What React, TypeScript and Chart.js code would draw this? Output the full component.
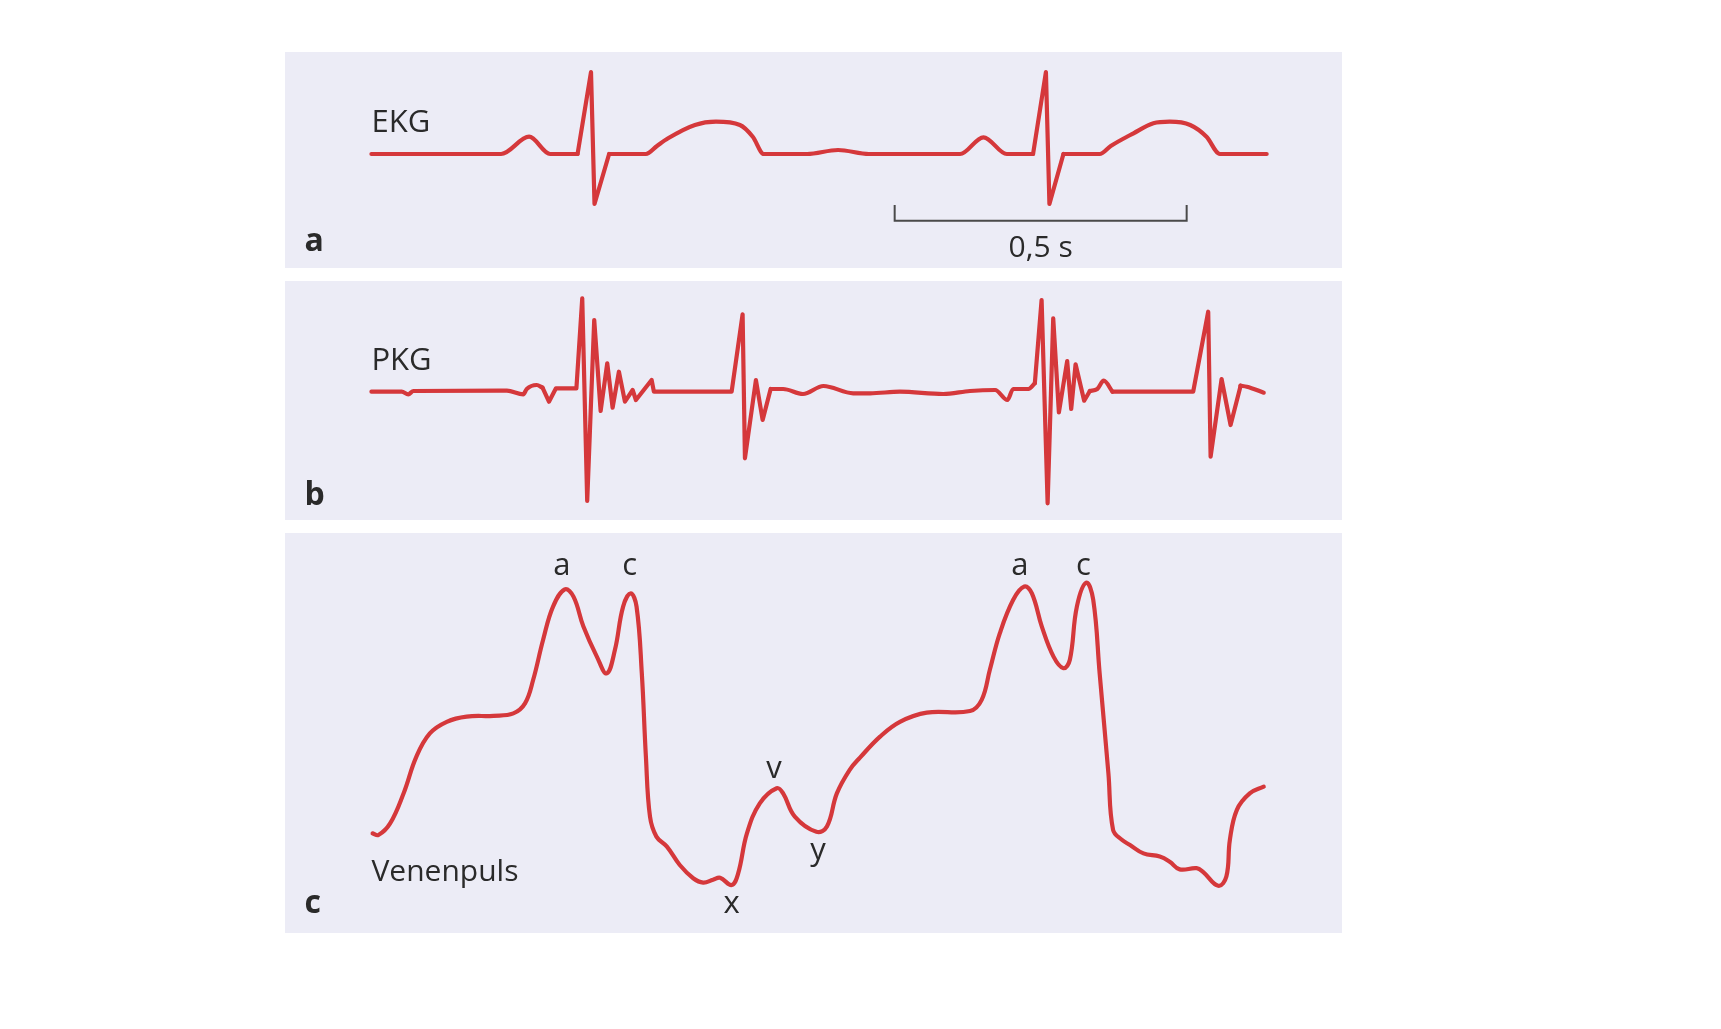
import React, { useEffect, useRef } from "react";
import { Chart, registerables } from "chart.js";

Chart.register(...registerables);

// ---------- shared time axis (seconds, 0 = start of the traces) ----------
const T_MIN = -0.148;
const T_MAX = 1.662;

// ---------- a: EKG (mV) ----------
const ekgWaveT = [0, 0.222, 0.27, 0.306, 0.353, 0.38, 0.407, 0.47, 0.489, 0.508, 0.554, 0.59, 0.631, 0.653, 0.672, 0.746, 0.799, 0.852, 1.008, 1.048, 1.088, 1.133, 1.16, 1.185, 1.247, 1.266, 1.305, 1.339, 1.367, 1.402, 1.43, 1.453, 1.533];
const ekgWaveV = [0, 0, 0.216, 0, 0, null, 0, 0, 0.1, 0.196, 0.363, 0.404, 0.363, 0.216, 0, 0, 0.05, 0, 0, 0.209, 0, 0, null, 0, 0, 0.1, 0.259, 0.384, 0.404, 0.363, 0.216, 0, 0];
const ekgSpikeT = [0.353, 0.376, 0.382, 0.407, 0.9, 1.133, 1.155, 1.161, 1.185];
const ekgSpikeV = [0, 1.025, -0.625, 0, null, 0, 1.025, -0.625, 0];
const scaleBarT = [0.896, 0.896, 1.396, 1.396];
const scaleBarV = [-0.6375, -0.834, -0.834, -0.6375];

// ---------- b: PKG (arbitrary units) ----------
const pkgWaveT = [0, 0.052, 0.063, 0.072, 0.232, 0.26, 0.266, 0.283, 0.293, 0.5, 0.684, 0.705, 0.739, 0.774, 0.825, 0.854, 0.905, 0.979, 1.025, 1.068, 1.089, 1.099, 1.125, 1.136, 1.18, 1.23, 1.243, 1.254, 1.269, 1.35, 1.488, 1.499, 1.528];
const pkgWaveV = [0, 0, -0.026, 0.007, 0.01, -0.026, 0.027, 0.067, 0.04, null, 0.027, 0.027, -0.023, 0.057, -0.016, -0.016, 0, -0.023, 0.007, 0.017, -0.083, 0.027, 0.027, 0.084, null, 0.007, 0.027, 0.11, 0, null, 0.06, 0.05, -0.01];
const pkgSoundT = [0.293, 0.304, 0.316, 0.351, 0.361, 0.3695, 0.3815, 0.3925, 0.4038, 0.413, 0.4238, 0.4341, 0.4473, 0.4529, 0.4798, 0.4837, 0.6168, 0.6356, 0.6396, 0.6584, 0.6699, 0.6836, 0.9, 1.136, 1.1476, 1.1579, 1.1675, 1.1772, 1.1914, 1.1983, 1.2058, 1.2205, 1.2303, 1.25, 1.269, 1.4072, 1.4329, 1.437, 1.4558, 1.4712, 1.4884];
const pkgSoundV = [0.04, -0.1, 0.034, 0.034, 0.934, -1.093, 0.717, -0.193, 0.284, -0.16, 0.2, -0.1, 0.017, -0.083, 0.117, 0, 0, 0.774, -0.666, 0.117, -0.283, 0.027, null, 0.084, 0.917, -1.116, 0.734, -0.206, 0.307, -0.173, 0.274, -0.09, 0.007, null, 0, 0, 0.8, -0.65, 0.127, -0.333, 0.06];

// ---------- c: Venenpuls (arbitrary units) ----------
const venT = [0.002, 0.012, 0.032, 0.055, 0.077, 0.1, 0.129, 0.163, 0.209, 0.243, 0.263, 0.277, 0.294, 0.311, 0.331, 0.346, 0.363, 0.386, 0.403, 0.417, 0.431, 0.444, 0.454, 0.463, 0.47, 0.477, 0.488, 0.506, 0.528, 0.551, 0.568, 0.585, 0.597, 0.617, 0.628, 0.643, 0.665, 0.694, 0.705, 0.725, 0.762, 0.78, 0.797, 0.819, 0.837, 0.871, 0.905, 0.951, 1.025, 1.045, 1.059, 1.076, 1.099, 1.118, 1.131, 1.148, 1.168, 1.185, 1.196, 1.208, 1.224, 1.236, 1.247, 1.262, 1.27, 1.285, 1.299, 1.322, 1.35, 1.367, 1.384, 1.413, 1.424, 1.45, 1.464, 1.47, 1.482, 1.504, 1.528];
const venV = [2.49, 2.45, 2.74, 3.49, 4.41, 4.99, 5.28, 5.41, 5.43, 5.49, 5.74, 6.33, 7.33, 8.16, 8.59, 8.41, 7.66, 6.91, 6.49, 7.08, 8.16, 8.49, 8.16, 6.49, 4.41, 2.91, 2.41, 2.16, 1.7, 1.37, 1.26, 1.33, 1.38, 1.2, 1.49, 2.49, 3.24, 3.62, 3.49, 2.91, 2.53, 2.66, 3.49, 4.08, 4.39, 4.91, 5.28, 5.51, 5.55, 5.83, 6.58, 7.49, 8.33, 8.66, 8.49, 7.66, 6.91, 6.62, 6.83, 8.16, 8.76, 8.33, 6.49, 3.99, 2.58, 2.33, 2.2, 1.99, 1.91, 1.78, 1.59, 1.62, 1.53, 1.18, 1.41, 2.33, 3.08, 3.49, 3.66];

// ---------- text labels (anchored in data units) ----------
const ekgLabels = [
  { text: "EKG", t: 0, v: 0.279, size: 31, bold: false, align: "left" },
  { text: "a", t: -0.1147, v: -1.2125, size: 32, bold: true, align: "left" },
  { text: "0,5 s", t: 1.146, v: -1.284, size: 30, bold: false, align: "center" },
];
const pkgLabels = [
  { text: "PKG", t: 0, v: 0.217, size: 31, bold: false, align: "left" },
  { text: "b", t: -0.1147, v: -1.133, size: 32, bold: true, align: "left" },
];
const venLabels = [
  { text: "Venenpuls", t: 0, v: 1.31, size: 30, bold: false, align: "left" },
  { text: "c", t: -0.1147, v: 0.5, size: 32, bold: true, align: "left" },
  { text: "a", t: 0.3262, v: 8.95, size: 31, bold: false, align: "center" },
  { text: "c", t: 0.4421, v: 8.95, size: 31, bold: false, align: "center" },
  { text: "x", t: 0.6168, v: 0.5, size: 31, bold: false, align: "center" },
  { text: "v", t: 0.6892, v: 3.875, size: 31, bold: false, align: "center" },
  { text: "y", t: 0.7646, v: 1.825, size: 31, bold: false, align: "center" },
  { text: "a", t: 1.1104, v: 8.95, size: 31, bold: false, align: "center" },
  { text: "c", t: 1.2192, v: 8.95, size: 31, bold: false, align: "center" },
];

// ---------- styling ----------
const RED = "#d5383b";
const BG = "#ececf6";
const TEXT = "#2a2a2a";
const BAR = "#4a4a4a";
const LINE_W = 4.2;
const PANEL_LEFT = 285;
const PANEL_WIDTH = 1057;

const toPoints = (ts: number[], vs: (number | null)[]) => {
  const n = Math.min(ts.length, vs.length);
  const out: { x: number; y: number | null }[] = [];
  for (let i = 0; i < n; i++) out.push({ x: ts[i], y: vs[i] });
  return out;
};

const smooth = (ts: number[], vs: (number | null)[]) => ({
  data: toPoints(ts, vs),
  borderColor: RED,
  borderWidth: LINE_W,
  cubicInterpolationMode: "monotone",
  fill: false,
  spanGaps: false,
});

const curved = (ts: number[], vs: (number | null)[]) => ({
  data: toPoints(ts, vs),
  borderColor: RED,
  borderWidth: LINE_W,
  cubicInterpolationMode: "default",
  tension: 0.4,
  fill: false,
  spanGaps: false,
});

const sharp = (ts: number[], vs: (number | null)[]) => ({
  data: toPoints(ts, vs),
  borderColor: RED,
  borderWidth: LINE_W,
  tension: 0,
  fill: false,
  spanGaps: false,
});

function labelPlugin(labels: any[]) {
  return {
    id: "textLabels",
    afterDatasetsDraw(chart: any) {
      const { ctx, scales } = chart;
      ctx.save();
      ctx.fillStyle = TEXT;
      ctx.textBaseline = "alphabetic";
      for (const l of labels) {
        ctx.font = `${l.bold ? "700 " : "400 "}${l.size}px "Open Sans", "Noto Sans", sans-serif`;
        ctx.textAlign = l.align;
        ctx.fillText(l.text, scales.x.getPixelForValue(l.t), scales.y.getPixelForValue(l.v));
      }
      ctx.restore();
    },
  };
}

type PanelSpec = {
  top: number;
  height: number;
  yMin: number;
  yMax: number;
  datasets: any[];
  labels: any[];
};

const panels: PanelSpec[] = [
  {
    top: 52,
    height: 216,
    yMin: -1.425,
    yMax: 1.275,
    datasets: [
      smooth(ekgWaveT, ekgWaveV),
      sharp(ekgSpikeT, ekgSpikeV),
      { ...sharp(scaleBarT, scaleBarV), borderColor: BAR, borderWidth: 2, borderCapStyle: "butt", borderJoinStyle: "miter" },
    ],
    labels: ekgLabels,
  },
  {
    top: 281,
    height: 239,
    yMin: -1.283,
    yMax: 1.107,
    datasets: [smooth(pkgWaveT, pkgWaveV), sharp(pkgSoundT, pkgSoundV)],
    labels: pkgLabels,
  },
  {
    top: 533,
    height: 400,
    yMin: 0,
    yMax: 10,
    datasets: [curved(venT, venV)],
    labels: venLabels,
  },
];

function Panel({ spec }: { spec: PanelSpec }) {
  const ref = useRef<HTMLCanvasElement | null>(null);
  useEffect(() => {
    const canvas = ref.current;
    if (!canvas) return;
    const chart = new Chart(canvas, {
      type: "line",
      data: { datasets: spec.datasets },
      options: {
        responsive: false,
        animation: false,
        events: [],
        devicePixelRatio: 1,
        layout: { padding: 0 },
        elements: {
          point: { radius: 0, hoverRadius: 0 },
          line: { borderCapStyle: "round", borderJoinStyle: "round", capBezierPoints: true },
        },
        plugins: { legend: { display: false }, tooltip: { enabled: false }, title: { display: false } },
        scales: {
          x: { type: "linear", min: T_MIN, max: T_MAX, display: false },
          y: { type: "linear", min: spec.yMin, max: spec.yMax, display: false },
        },
      } as any,
      plugins: [labelPlugin(spec.labels)],
    } as any);
    return () => chart.destroy();
  }, [spec]);
  return (
    <canvas
      ref={ref}
      width={PANEL_WIDTH}
      height={spec.height}
      style={{
        position: "absolute",
        left: PANEL_LEFT,
        top: spec.top,
        width: PANEL_WIDTH,
        height: spec.height,
        background: BG,
        display: "block",
      }}
    />
  );
}

export default function App() {
  return (
    <div style={{ position: "absolute", left: 0, top: 0, width: 1721, height: 1029, background: "#ffffff", overflow: "hidden" }}>
      {panels.map((p, i) => (
        <Panel key={i} spec={p} />
      ))}
    </div>
  );
}
